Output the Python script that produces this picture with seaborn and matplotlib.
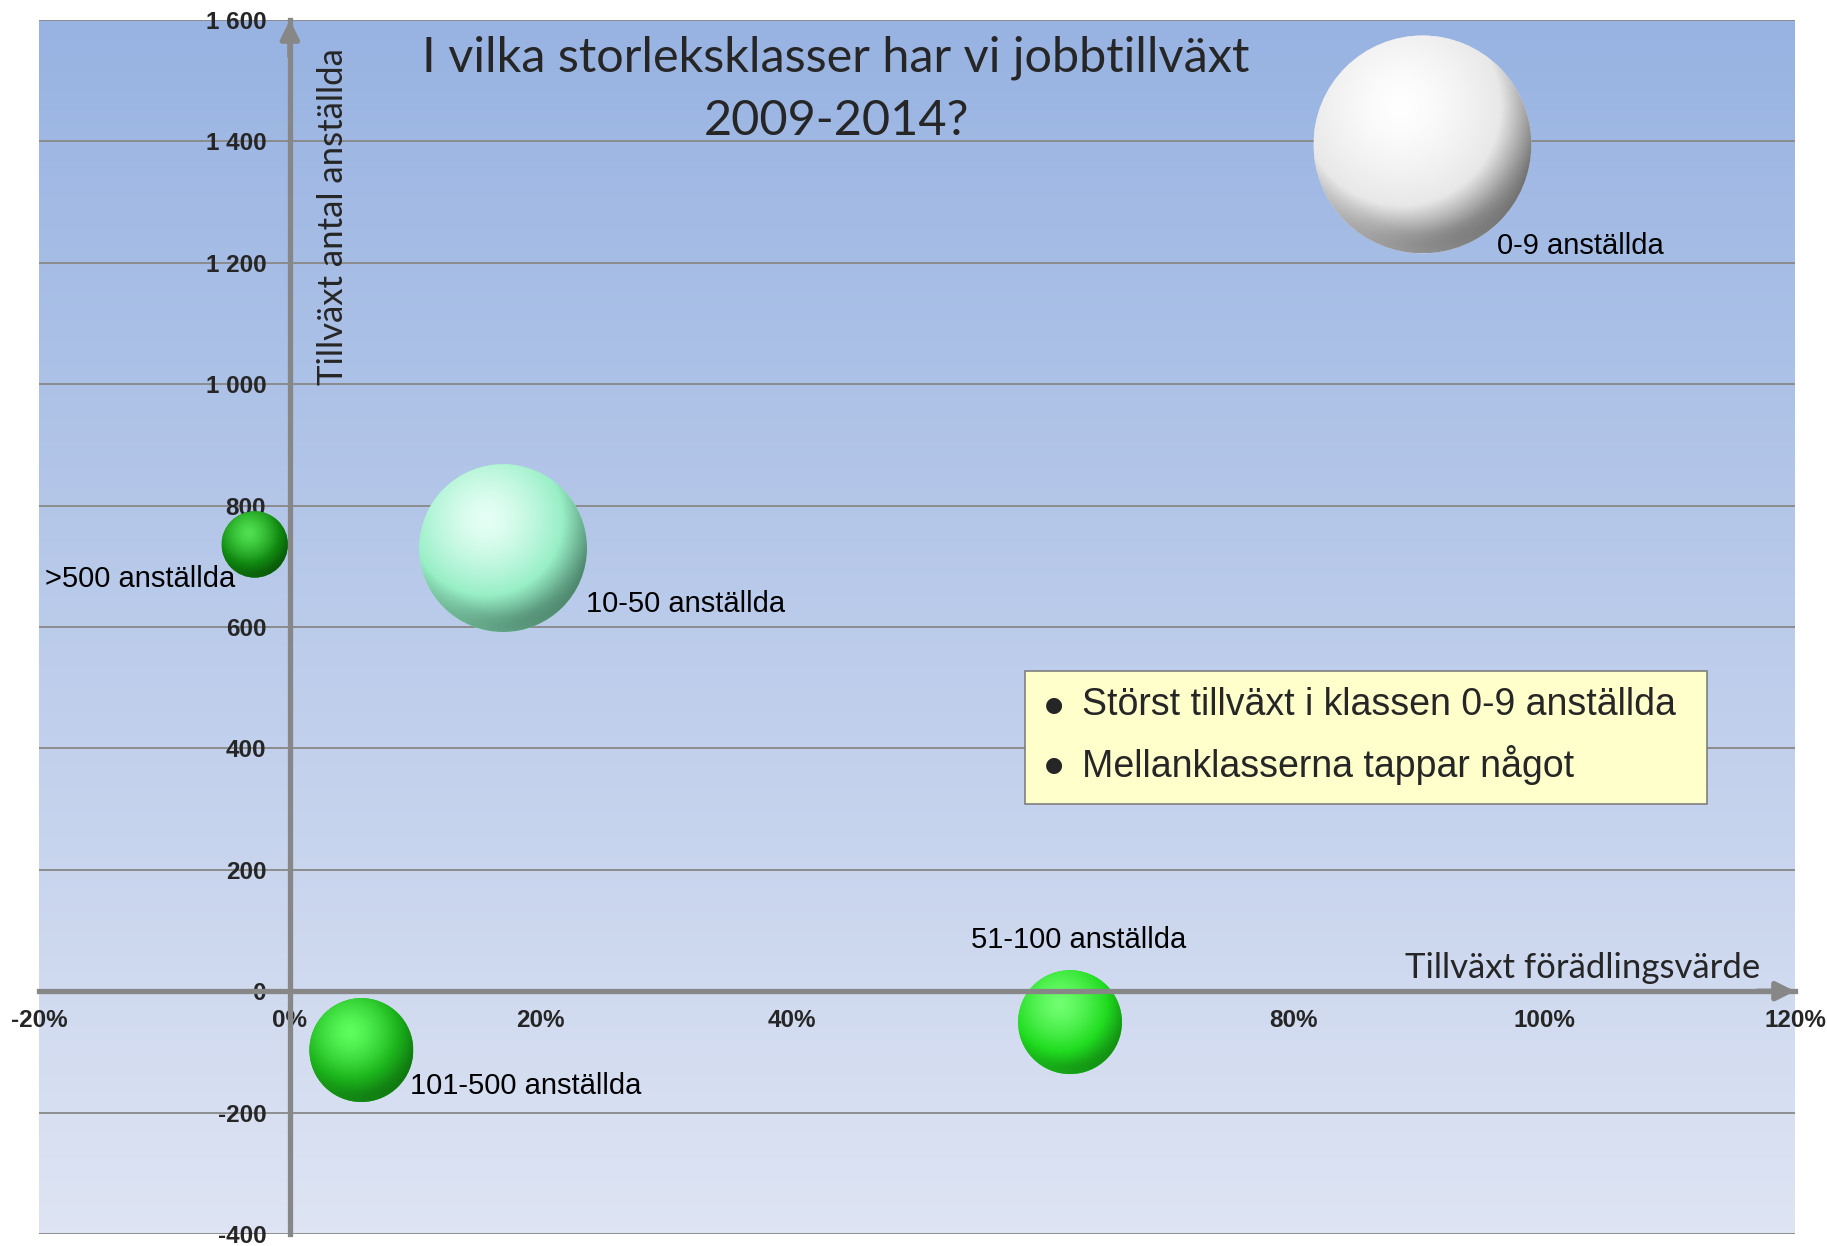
import numpy as np
import pandas as pd
import seaborn as sns
import matplotlib.pyplot as plt
from matplotlib.patches import Ellipse, Rectangle
from matplotlib.colors import LinearSegmentedColormap, to_rgb

# Data
classes = ['0-9 anställda', '10-50 anställda', '>500 anställda', '101-500 anställda', '51-100 anställda']
value_added_growth = [90.3, 17.0, -2.8, 5.7, 62.2]   # % (x)
employment_growth = [1395, 730, 736, -97, -51]        # antal (y)
bubble_size = [47.5, 28.2, 4.4, 10.8, 10.8]

x_ticks = [-20, 0, 20, 40, 60, 80, 100, 120]
y_ticks = [-400, -200, 0, 200, 400, 600, 800, 1000, 1200, 1400, 1600]

df = pd.DataFrame({'klass': classes, 'x': value_added_growth,
                   'y': employment_growth, 'size': bubble_size})

# Sphere colours: highlight, base, shadow
sphere_colors = {
    '0-9 anställda': ('#ffffff', '#e8e8e8', '#333333'),
    '10-50 anställda': ('#e6fff6', '#98efc6', '#264f3e'),
    '>500 anställda': ('#4fe04f', '#118a11', '#053c05'),
    '101-500 anställda': ('#5cff5c', '#1cb41c', '#0a560a'),
    '51-100 anställda': ('#70ff70', '#20dc20', '#0c660c'),
}

sns.set_style('white')
plt.rcParams['font.family'] = ['Liberation Sans', 'DejaVu Sans']
calibri_like = ['Lato', 'DejaVu Sans']

W, H, DPI = 1827, 1246, 100
fig = plt.figure(figsize=(W / DPI, H / DPI), dpi=DPI)
ax_l, ax_r, ax_t, ax_b = 39, 1795, 20, 1234
ax = fig.add_axes([ax_l / W, 1 - ax_b / H, (ax_r - ax_l) / W, (ax_b - ax_t) / H])
ax_w_px, ax_h_px = ax_r - ax_l, ax_b - ax_t
x_per_px = (x_ticks[-1] - x_ticks[0]) / ax_w_px
y_per_px = (y_ticks[-1] - y_ticks[0]) / ax_h_px

# background gradient
grad = np.linspace(0, 1, 256)[:, None]
bg = LinearSegmentedColormap.from_list('bg', ['#98b3e2', '#dee4f3'])
ax.imshow(grad, cmap=bg, aspect='auto', extent=(0, 1, 0, 1),
          transform=ax.transAxes, zorder=0)

# horizontal gridlines
for yv in y_ticks:
    ax.axhline(yv, color='#878787', lw=1.3, zorder=0.5)

# bubbles (diameter in px proportional to sqrt of size)
k = 31.6
diam_px = {r.klass: k * np.sqrt(r.size) for r in df.itertuples()}
sizes = {c: (d * 0.72) ** 2 for c, d in diam_px.items()}
palette = {c: sphere_colors[c][1] for c in classes}
sns.scatterplot(data=df, x='x', y='y', hue='klass', size='klass', sizes=sizes,
                palette=palette, legend=False, edgecolor='none', ax=ax, zorder=1)
ax.set_xlabel('')
ax.set_ylabel('')

# sphere shading on top of each bubble
n = 200
u, v = np.meshgrid(np.linspace(-1, 1, n), np.linspace(1, -1, n))
for r in df.itertuples():
    hi, base, dark = sphere_colors[r.klass]
    cmap = LinearSegmentedColormap.from_list('s', [hi, base, dark])
    dist = np.sqrt((u + 0.2) ** 2 + (v - 0.35) ** 2) / 1.5
    t = np.clip(dist, 0, 1) ** 1.4
    img = cmap(t)
    rr = np.sqrt(u ** 2 + v ** 2)
    rim = np.clip((rr - 0.82) / 0.18, 0, 1) * np.clip(-v - 0.2, 0, 1) * 0.45
    img[..., :3] = img[..., :3] * (1 - rim[..., None]) + np.array(to_rgb(base)) * rim[..., None]
    rx = diam_px[r.klass] / 2 * x_per_px
    ry = diam_px[r.klass] / 2 * y_per_px
    im = ax.imshow(img, extent=(r.x - rx, r.x + rx, r.y - ry, r.y + ry),
                   aspect='auto', zorder=1.5, interpolation='bilinear')
    clip = Ellipse((r.x, r.y), 2 * rx, 2 * ry, transform=ax.transData)
    im.set_clip_path(clip)

# bubble labels
label_offsets = {
    '0-9 anställda': (54, -73, 'left'),
    '10-50 anställda': (60, -40, 'left'),
    '>500 anställda': (-14, -25, 'right'),
    '101-500 anställda': (35, -26, 'left'),
    '51-100 anställda': (6, 59, 'center'),
}
for r in df.itertuples():
    dx, dy, ha = label_offsets[r.klass]
    ax.annotate(r.klass, (r.x, r.y), xytext=(dx, dy), textcoords='offset points',
                ha=ha, va='center', fontsize=21, color='black', zorder=3)

# axes crossing at zero
ax.set_xlim(x_ticks[0], x_ticks[-1])
ax.set_ylim(y_ticks[0], y_ticks[-1])
for s in ['top', 'right']:
    ax.spines[s].set_visible(False)
ax.spines['left'].set_position(('data', 0))
ax.spines['bottom'].set_position(('data', 0))
for s in ['left', 'bottom']:
    ax.spines[s].set_color('#878787')
    ax.spines[s].set_linewidth(3.8)
    ax.spines[s].set_zorder(2)
ax.set_xticks(x_ticks)
ax.set_yticks(y_ticks)
ax.tick_params(axis='both', direction='out', length=4, width=3, color='#878787')
ax.tick_params(axis='y', pad=13)
ax.tick_params(axis='x', pad=9)
ax.set_xticklabels([f'{t}%' for t in x_ticks], fontsize=17.5, fontweight='bold',
                   family='Liberation Sans')
ax.set_yticklabels([f'{t:,}'.replace(',', ' ') for t in y_ticks], fontsize=17.5,
                   fontweight='bold', family='Liberation Sans')

# arrow heads
arrow = dict(arrowstyle='-|>,head_length=1.1,head_width=0.55', color='#878787',
             lw=3.8, shrinkA=0, shrinkB=0)
ax.annotate('', xy=(x_ticks[-1], 0), xytext=(x_ticks[-1] - 3, 0),
            arrowprops=arrow, annotation_clip=False, zorder=2)
ax.annotate('', xy=(0, y_ticks[-1]), xytext=(0, y_ticks[-1] - 60),
            arrowprops=arrow, annotation_clip=False, zorder=2)

# titles
fig.text(836 / W, 1 - 58 / H, 'I vilka storleksklasser har vi jobbtillväxt',
         ha='center', va='center', fontsize=35, family=calibri_like)
fig.text(836 / W, 1 - 121 / H, '2009-2014?',
         ha='center', va='center', fontsize=35, family=calibri_like)
fig.text(333 / W, 1 - 217 / H, 'Tillväxt antal anställda', rotation=90,
         ha='center', va='center', fontsize=25, family=calibri_like)
fig.text(1760 / W, 1 - 968 / H, 'Tillväxt förädlingsvärde',
         ha='right', va='center', fontsize=25, family=calibri_like)

# comment box
ax.add_patch(Rectangle((0.5615, 0.354), 0.3885, 0.110, transform=ax.transAxes,
                       facecolor='#ffffcc', edgecolor='#7f7f7f', lw=1.2, zorder=4))
for yy, txt in [(0.4357, 'Störst tillväxt i klassen 0-9 anställda'),
                (0.3860, 'Mellanklasserna tappar något')]:
    ax.text(0.578, yy, '●', transform=ax.transAxes, ha='center', va='center',
            fontsize=15, family=['DejaVu Sans'], zorder=5)
    ax.text(0.594, yy, txt, transform=ax.transAxes, ha='left', va='center',
            fontsize=27, zorder=5)

fig.savefig('out.png', dpi=DPI)
